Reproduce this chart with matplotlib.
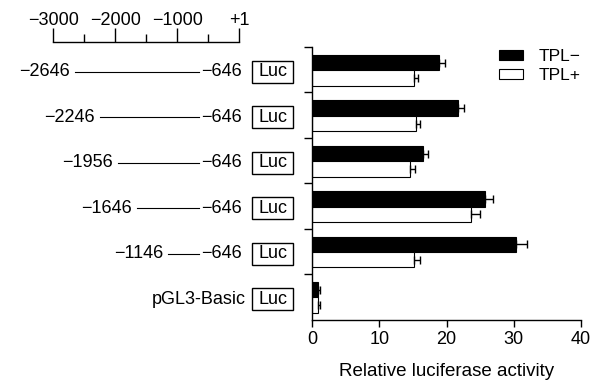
import matplotlib
matplotlib.use("Agg")
import matplotlib.pyplot as plt
from matplotlib.patches import Patch, Rectangle

plt.rcParams["font.family"] = ["Liberation Sans", "DejaVu Sans"]

# ---------------------------------------------------------------------------
# Data
# ---------------------------------------------------------------------------
constructs = ["\u22122646", "\u22122246", "\u22121956", "\u22121646", "\u22121146", "pGL3-Basic"]
starts = [-2646, -2246, -1956, -1646, -1146, None]
end_pos = -646
tpl_minus = [18.9, 21.7, 16.5, 25.7, 30.3, 0.9]
tpl_minus_err = [0.8, 0.9, 0.7, 1.2, 1.6, 0.2]
tpl_plus = [15.2, 15.5, 14.5, 23.6, 15.1, 0.8]
tpl_plus_err = [0.6, 0.5, 0.8, 1.4, 0.9, 0.3]
scale_major = [-3000, -2000, -1000, 1]
scale_major_labels = ["\u22123000", "\u22122000", "\u22121000", "+1"]
scale_minor = [-2500, -1500, -500]
x_ticks = [0, 10, 20, 30, 40]

FS = 13
W, H = 592, 383

fig = plt.figure(figsize=(W / 100, H / 100), dpi=100)

# -- bar panel --------------------------------------------------------------
ax = fig.add_axes([312.3 / W, 1 - 319.5 / H, (581 - 312.3) / W, (319.5 - 47) / H])
n = len(constructs)
centers = [n - 0.5 - i for i in range(n)]
bh = 0.34
y_minus = [c + 0.155 for c in centers]
y_plus = [c - 0.185 for c in centers]
ekw = dict(ecolor="black", elinewidth=1.0, capsize=2.6, capthick=1.0)
ax.barh(y_minus, tpl_minus, height=bh, color="black", edgecolor="black", linewidth=0.8,
        xerr=[[0] * n, tpl_minus_err], error_kw=ekw)
ax.barh(y_plus, tpl_plus, height=bh, color="white", edgecolor="black", linewidth=0.8,
        xerr=[[0] * n, tpl_plus_err], error_kw=ekw)
ax.set_xlim(0, 40)
ax.set_ylim(0, n)
ax.set_xticks(x_ticks)
ax.set_yticks(range(1, n + 1))
ax.set_yticklabels([])
for s in ["top", "right"]:
    ax.spines[s].set_visible(False)
for s in ["left", "bottom"]:
    ax.spines[s].set_linewidth(1.0)
ax.tick_params(axis="x", length=5, width=1.0, pad=3, labelsize=FS)
ax.tick_params(axis="y", length=6, width=1.0)
ax.set_xlabel("Relative luciferase activity", fontsize=FS + 0.5, labelpad=11)

handles = [Patch(facecolor="black", edgecolor="black", linewidth=0.8),
           Patch(facecolor="white", edgecolor="black", linewidth=0.8)]
ax.legend(handles, ["TPL\u2212", "TPL+"], loc="upper right", bbox_to_anchor=(1.0, 0.993),
          frameon=False, fontsize=FS - 0.5, handlelength=1.4, handleheight=0.55,
          handletextpad=0.9, labelspacing=0.25, borderpad=0, borderaxespad=0)

# -- promoter scale bar -----------------------------------------------------
sx0, sx1 = 53.3, 239.3
sax = fig.add_axes([sx0 / W, 1 - 42 / H, (sx1 - sx0) / W, 0])
sax.set_xlim(-3000, 1)
sax.set_yticks([])
for s in ["top", "left", "right"]:
    sax.spines[s].set_visible(False)
sax.spines["bottom"].set_linewidth(1.0)
sax.set_xticks(scale_major)
sax.set_xticklabels(scale_major_labels)
sax.set_xticks(scale_minor, minor=True)
sax.tick_params(axis="x", which="major", direction="in", length=10, width=1.0,
                labelbottom=False, labeltop=True, top=False, bottom=True, pad=9.5,
                labelsize=FS)
sax.tick_params(axis="x", which="minor", direction="in", length=5.5, width=1.0,
                top=False, bottom=True)

# -- constructs -------------------------------------------------------------
mx = fig.add_axes([sx0 / W, 1 - 319.5 / H, (sx1 - sx0) / W, (319.5 - 47) / H])
mx.set_xlim(-3000, 1)
mx.set_ylim(0, n)
mx.axis("off")
bp_per_px = 3001 / (sx1 - sx0)
luc_x0, luc_w, luc_h = 13 * bp_per_px, 41 * bp_per_px, 0.48
for i, (lab, st) in enumerate(zip(constructs, starts)):
    yc = centers[i] - 0.05
    mx.add_patch(Rectangle((luc_x0, yc - luc_h / 2), luc_w, luc_h, facecolor="white",
                           edgecolor="black", linewidth=1.0, clip_on=False))
    mx.text(luc_x0 + luc_w / 2, yc, "Luc", ha="center", va="center", fontsize=FS,
            clip_on=False)
    if st is None:
        mx.text(luc_x0 - 6 * bp_per_px, yc, lab, ha="right", va="center", fontsize=FS,
                clip_on=False)
        continue
    mx.plot([st, end_pos], [yc, yc], color="black", linewidth=0.8, clip_on=False)
    mx.text(end_pos + 1.5 * bp_per_px, yc, "\u2212646", ha="left", va="center", fontsize=FS,
            clip_on=False)
    mx.text(st - 5 * bp_per_px, yc, lab, ha="right", va="center", fontsize=FS,
            clip_on=False)

fig.savefig("out.png", dpi=100)
